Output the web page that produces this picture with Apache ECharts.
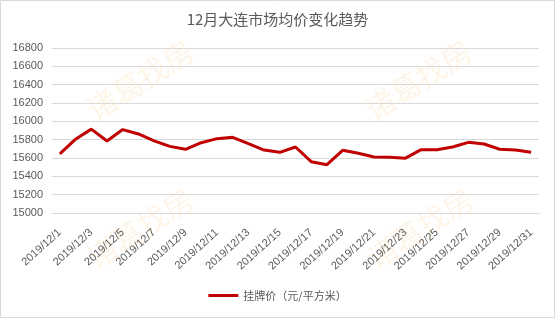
<!DOCTYPE html>
<html>
<head>
<meta charset="utf-8">
<script src="https://cdn.jsdelivr.net/npm/echarts@6/dist/echarts.min.js"></script>
<style>html,body{margin:0;padding:0;background:#fff}#c{width:555px;height:318px}</style>
</head>
<body>
<div id="c"></div>
<script>
var categories = [];
for (var d = 1; d <= 31; d++) categories.push('2019/12/' + d);
var seriesName = '挂牌价（元/平方米）';
var prices = [15645, 15805, 15915, 15785, 15910, 15862, 15786, 15727, 15695, 15767,
              15811, 15826, 15756, 15687, 15662, 15720, 15560, 15527, 15684, 15651,
              15611, 15607, 15598, 15691, 15689, 15720, 15771, 15753, 15695, 15687, 15662];
var yTicks = {min: 15000, max: 16800, interval: 200};
var titleText = '12月大连市场均价变化趋势';
var watermarkText = '诸葛找房';

var font = '"Liberation Sans", "Noto Sans CJK SC", sans-serif';
var cjk = '"Noto Sans CJK SC", sans-serif';
function wm(x, y) {
  return {type: 'text', x: x, y: y, rotation: Math.PI / 5.5, z: 0,
    style: {text: watermarkText, fontSize: 30, fontFamily: cjk, fill: 'rgba(248,190,110,0.16)',
      textAlign: 'center', textVerticalAlign: 'middle'}};
}
var chart = echarts.init(document.getElementById('c'));
chart.setOption({
  animation: false,
  backgroundColor: '#fff',
  title: {text: titleText, left: 'center', top: 7,
    textStyle: {fontSize: 15, fontWeight: 'normal', color: '#595959', fontFamily: cjk}},
  legend: {data: [seriesName], bottom: 12, left: 'center', itemWidth: 30, itemHeight: 3, itemGap: 4,
    icon: 'rect',
    textStyle: {fontSize: 11, color: '#595959', fontFamily: cjk}},
  grid: {left: 52, right: 16, top: 48, bottom: 105},
  xAxis: {type: 'category', data: categories, boundaryGap: true,
    axisLine: {show: true, lineStyle: {color: '#d9d9d9'}},
    axisTick: {show: false},
    axisLabel: {interval: 1, rotate: 42, margin: 18, fontSize: 11, color: '#595959', fontFamily: font}},
  yAxis: {type: 'value', min: yTicks.min, max: yTicks.max, interval: yTicks.interval,
    axisLine: {show: false}, axisTick: {show: false},
    splitLine: {lineStyle: {color: '#d9d9d9', width: 1}},
    axisLabel: {fontSize: 11, color: '#595959', margin: 9, fontFamily: font,
      formatter: function (v) { return String(v); }}},
  graphic: [
    {type: 'rect', shape: {x: 0.5, y: 0.5, width: 554, height: 317}, style: {fill: 'none', stroke: '#d9d9d9', lineWidth: 1}, silent: true},
    wm(140, 80), wm(418, 80), wm(140, 228), wm(420, 228)
  ],
  series: [{name: seriesName, type: 'line', data: prices, showSymbol: false, symbol: 'none',
    lineStyle: {color: '#c00000', width: 3}, itemStyle: {color: '#c00000'}, z: 5}]
});
</script>
</body>
</html>
